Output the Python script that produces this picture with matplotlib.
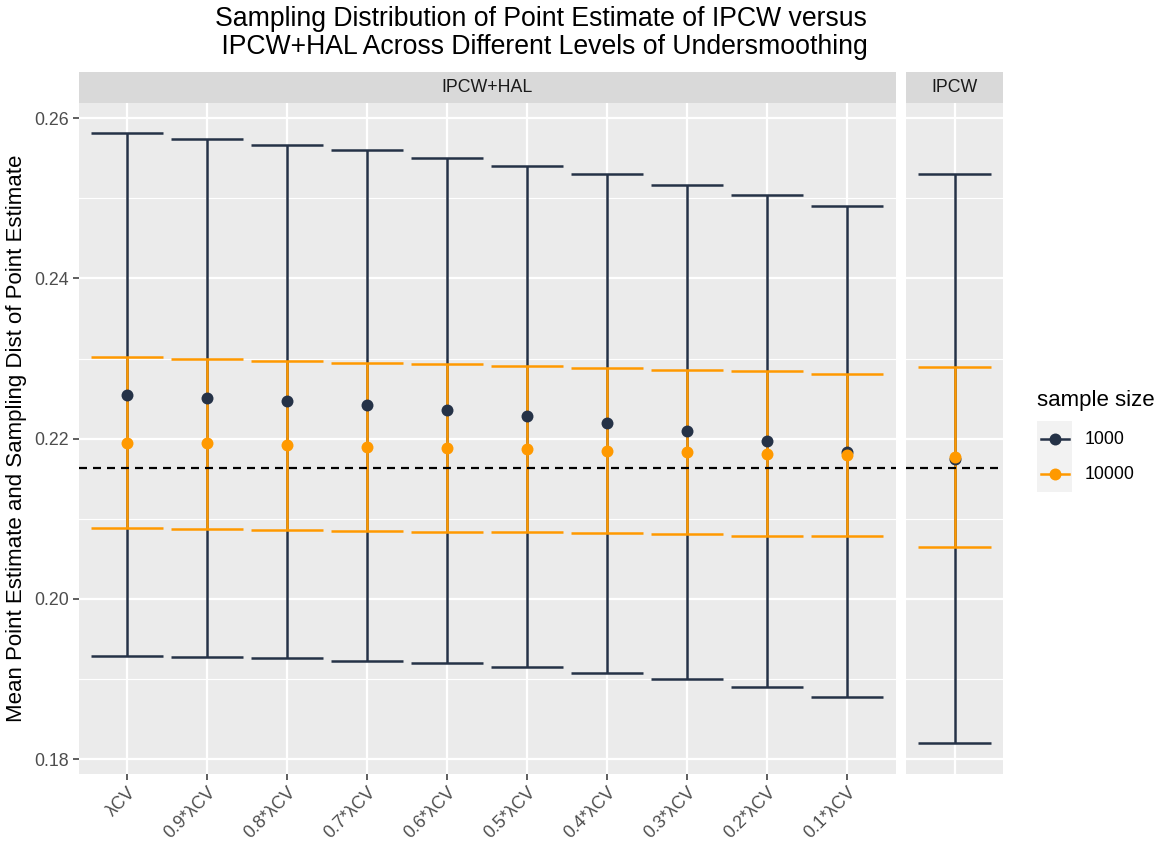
import numpy as np
import matplotlib.pyplot as plt
from matplotlib.lines import Line2D

plt.rcParams['font.family'] = ['Liberation Sans', 'DejaVu Sans']

# undersmoothing levels for the IPCW+HAL estimator
levels = ["λCV", "0.9*λCV", "0.8*λCV", "0.7*λCV", "0.6*λCV",
          "0.5*λCV", "0.4*λCV", "0.3*λCV", "0.2*λCV", "0.1*λCV"]

# IPCW+HAL, n = 1000
hal_mean_1000 = [0.2254, 0.2251, 0.2247, 0.2242, 0.2236, 0.2228, 0.2219, 0.2209, 0.2197, 0.2183]
hal_upper_1000 = [0.2581, 0.2574, 0.2567, 0.2560, 0.2551, 0.2541, 0.2530, 0.2517, 0.2504, 0.2490]
hal_lower_1000 = [0.1929, 0.1928, 0.1926, 0.1923, 0.1920, 0.1915, 0.1908, 0.1900, 0.1890, 0.1878]

# IPCW+HAL, n = 10000
hal_mean_10000 = [0.2195, 0.2194, 0.2192, 0.2190, 0.2188, 0.2187, 0.2185, 0.2183, 0.2181, 0.2180]
hal_upper_10000 = [0.2302, 0.2300, 0.2297, 0.2295, 0.2293, 0.2291, 0.2288, 0.2286, 0.2284, 0.2281]
hal_lower_10000 = [0.2088, 0.2087, 0.2086, 0.2085, 0.2084, 0.2083, 0.2082, 0.2081, 0.2079, 0.2078]

# plain IPCW
ipcw_mean = {"1000": 0.2175, "10000": 0.2177}
ipcw_upper = {"1000": 0.2530, "10000": 0.2290}
ipcw_lower = {"1000": 0.1820, "10000": 0.2065}

true_value = 0.2163

sizes = ["1000", "10000"]
colors = {"1000": "#253247", "10000": "#FF9900"}

W, H = 1155, 846
fig = plt.figure(figsize=(W / 100, H / 100), dpi=100)


def box(l, t, r, b):
    return [l / W, 1 - b / H, (r - l) / W, (b - t) / H]


ax_hal = fig.add_axes(box(79, 103, 895.5, 773.5))
ax_ipcw = fig.add_axes(box(906, 103, 1003, 773.5), sharey=ax_hal)

x_hal = np.arange(len(levels))
hal = {
    "1000": (hal_mean_1000, hal_lower_1000, hal_upper_1000),
    "10000": (hal_mean_10000, hal_lower_10000, hal_upper_10000),
}
ipcw = {s: ([ipcw_mean[s]], [ipcw_lower[s]], [ipcw_upper[s]]) for s in sizes}

lw = 1.8
half = 0.45
for ax, x, groups in [(ax_hal, x_hal, hal), (ax_ipcw, np.array([0]), ipcw)]:
    ax.set_facecolor("#EBEBEB")
    for sp in ax.spines.values():
        sp.set_visible(False)
    # error bars first, then the points on top
    for s in sizes:
        mean, lower, upper = groups[s]
        ax.vlines(x, lower, upper, color=colors[s], lw=lw, zorder=3)
        ax.hlines(lower, x - half, x + half, color=colors[s], lw=lw, zorder=3)
        ax.hlines(upper, x - half, x + half, color=colors[s], lw=lw, zorder=3)
    for s in sizes:
        mean = groups[s][0]
        ax.plot(x, mean, "o", color=colors[s], ms=8.6, mec="none", zorder=5)
    ax.axhline(true_value, color="black", lw=1.6, ls=(0, (3.6, 2.7)), zorder=4)
    ax.set_axisbelow(True)
    ax.grid(which="major", color="white", lw=1.6)
    ax.grid(which="minor", axis="y", color="white", lw=0.8)

all_vals = hal_lower_1000 + hal_upper_1000 + hal_lower_10000 + hal_upper_10000 \
    + list(ipcw_lower.values()) + list(ipcw_upper.values())
lo, hi = min(all_vals), max(all_vals)
pad = 0.05 * (hi - lo)
ax_hal.set_ylim(lo - pad, hi + pad)
ax_hal.set_yticks([0.18, 0.20, 0.22, 0.24, 0.26])
ax_hal.set_yticks([0.19, 0.21, 0.23, 0.25], minor=True)
ax_hal.set_yticklabels(["0.18", "0.20", "0.22", "0.24", "0.26"])
ax_hal.tick_params(axis="y", which="minor", length=0)
ax_hal.tick_params(axis="both", which="major", color="#333333", length=4.5, width=1.1,
                   labelcolor="#4D4D4D", labelsize=12.8, pad=3)

ax_hal.set_xlim(-0.6, len(levels) - 0.4)
ax_hal.set_xticks(x_hal)
ax_hal.set_xticklabels(levels, rotation=45, ha="right", rotation_mode="anchor")

ax_ipcw.set_xlim(-0.6, 0.6)
ax_ipcw.set_xticks([0])
ax_ipcw.tick_params(axis="both", which="both", length=0, labelleft=False, labelbottom=False)

ax_hal.set_ylabel("Mean Point Estimate and Sampling Dist of Point Estimate",
                  fontsize=16, labelpad=5)

# facet strips
for (l, r), label in [((79, 895.5), "IPCW+HAL"), ((906, 1003), "IPCW")]:
    strip = fig.add_axes(box(l, 72, r, 103))
    strip.set_facecolor("#D9D9D9")
    strip.set_xticks([])
    strip.set_yticks([])
    for sp in strip.spines.values():
        sp.set_visible(False)
    strip.text(0.5, 0.5, label, ha="center", va="center", fontsize=12.8, color="#1A1A1A")

fig.text(541 / W, 1 - 6 / H,
         "Sampling Distribution of Point Estimate of IPCW versus\n"
         " IPCW+HAL Across Different Levels of Undersmoothing",
         ha="center", va="top", fontsize=19.2, linespacing=1.1, multialignment="center")

# legend
fig.text(1037 / W, 1 - 400 / H, "sample size", ha="left", va="center", fontsize=16)
key = fig.add_axes(box(1037, 421, 1072, 492))
key.set_facecolor("#F2F2F2")
key.set_xlim(0, 1)
key.set_ylim(0, 2)
key.set_xticks([])
key.set_yticks([])
for sp in key.spines.values():
    sp.set_visible(False)
for i, s in enumerate(sizes):
    yk = 1.5 - i
    key.add_line(Line2D([0.1, 0.9], [yk, yk], color=colors[s], lw=lw))
    key.plot([0.5], [yk], "o", color=colors[s], ms=8.6, mec="none")
    fig.text(1085 / W, 1 - (439 + 35 * i) / H, s, ha="left", va="center", fontsize=12.8)

fig.savefig("out.png", dpi=100)
